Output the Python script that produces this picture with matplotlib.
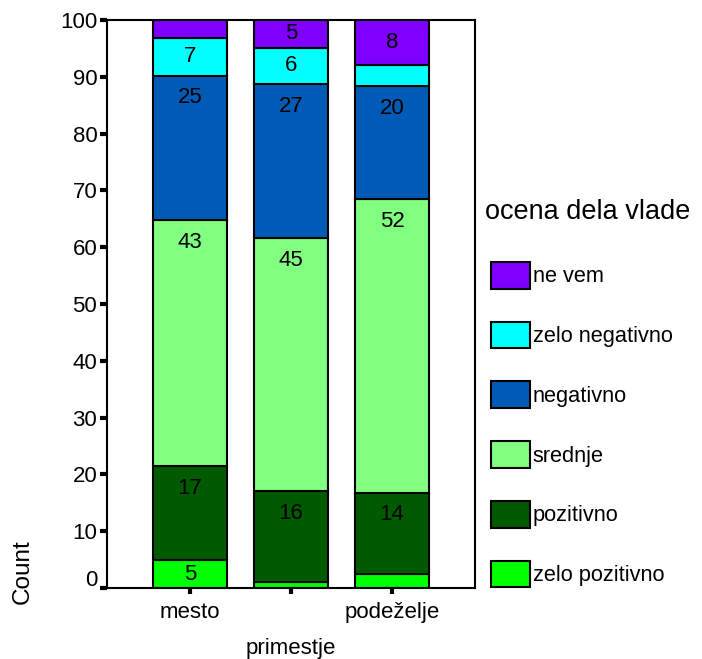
import matplotlib.pyplot as plt
import matplotlib.transforms as mtransforms
import numpy as np

plt.rcParams['font.family'] = ['Liberation Sans', 'DejaVu Sans']

# categories (x) and stacked series, bottom to top
categories = ['mesto', 'primestje', 'podeželje']
series_names = ['zelo pozitivno', 'pozitivno', 'srednje', 'negativno', 'zelo negativno', 'ne vem']
zelo_pozitivno = [4.9, 1.0, 2.4]
pozitivno = [16.6, 16.0, 14.4]
srednje = [43.3, 44.6, 51.6]
negativno = [25.4, 27.1, 20.0]
zelo_negativno = [6.6, 6.4, 3.6]
ne_vem = [3.2, 4.9, 8.0]
colors = ['#00FF00', '#005A00', '#80FF80', '#005BB7', '#00FFFF', '#8000FF']

y_ticks = [0, 10, 20, 30, 40, 50, 60, 70, 80, 90, 100]


def main():
    series = [zelo_pozitivno, pozitivno, srednje, negativno, zelo_negativno, ne_vem]

    fig = plt.figure(figsize=(7.02, 6.59), dpi=100)
    ax = fig.add_axes([0.1524, 0.1077, 0.5242, 0.862])

    x = np.arange(len(categories))
    bottom = np.zeros(len(categories))
    handles = []
    for name, vals, col in zip(series_names, series, colors):
        vals = np.array(vals)
        h = ax.bar(x, vals, width=0.73, bottom=bottom, color=col,
                   edgecolor='black', linewidth=1.5, label=name)
        handles.append(h)
        # value labels, near top of segment (centered if small)
        for xi, b, v in zip(x, bottom, vals):
            if v >= 4.5:
                top = b + v
                y = top - min(v / 2, 3.9)
                ax.text(xi, y, f"{v:.0f}", ha='center', va='center', fontsize=16)
        bottom += vals

    ax.set_xlim(-0.82, 2.82)
    ax.set_ylim(0, 100)
    ax.set_yticks(y_ticks)
    ax.set_xticks(x)
    # middle label staggered one line lower, like the original
    labels = ax.set_xticklabels(['mesto', '\nprimestje', 'podeželje'], fontsize=16)
    labels[1].set_linespacing(1.95)
    ax.tick_params(axis='y', labelsize=16, length=5, width=3, pad=2)
    ax.tick_params(axis='x', length=4, width=3, pad=6)
    for sp in ax.spines.values():
        sp.set_linewidth(1.5)

    # the "0" label sits a little above its tick
    zero_lab = ax.get_yticklabels()[0]
    zero_lab.set_transform(zero_lab.get_transform() +
                           mtransforms.ScaledTranslation(0, 0.10, fig.dpi_scale_trans))

    fig.text(0.033, 0.132, 'Count', rotation=90, ha='center', va='center', fontsize=17.5)

    fig.text(0.691, 1 - 212 / 659, 'ocena dela vlade', ha='left', va='center', fontsize=19.5)
    fig.legend(handles[::-1], series_names[::-1],
               loc='upper left', bbox_to_anchor=(0.699, 1 - 262 / 659), frameon=False,
               fontsize=15.7, handlelength=1.8, handleheight=1.5, handletextpad=0.12,
               labelspacing=1.52, borderpad=0, borderaxespad=0)

    plt.savefig('out.png', dpi=100)


if __name__ == '__main__':
    main()
